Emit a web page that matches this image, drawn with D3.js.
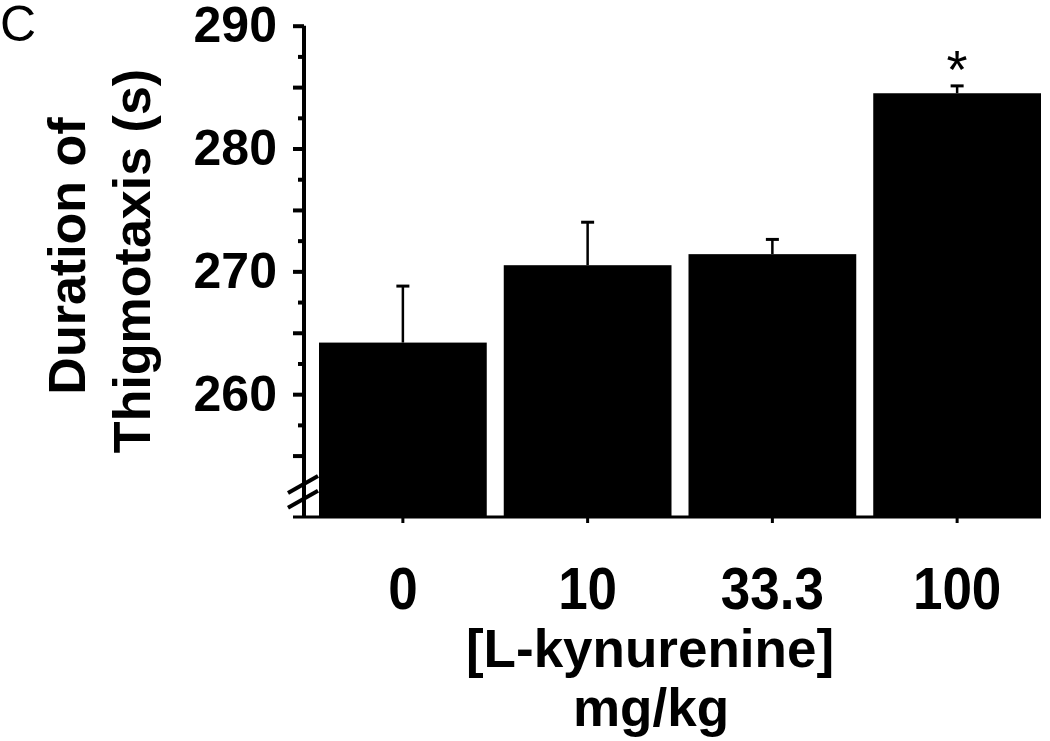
<!DOCTYPE html>
<html>
<head>
<meta charset="utf-8">
<script src="https://cdn.jsdelivr.net/npm/d3@7"></script>
<style>
  body { margin: 0; background: #fff; }
  svg { display: block; }
  text { font-family: "Liberation Sans", Arial, sans-serif; }
</style>
</head>
<body>
<div class="container"></div>
<script>
var w = 1050;
var h = 741;

// data
const doses = ["0", "10", "33.3", "100"];
const means = [264.2, 270.5, 271.4, 284.5];
const sems = [4.6, 3.5, 1.2, 0.6];
const marks = ["", "", "", "*"];
const yLabels = [260, 270, 280, 290];

const data = doses.map((d, i) => ({ dose: d, mean: means[i], sem: sems[i], mark: marks[i] }));

var svg = d3.select(".container")
  .append("svg")
  .attr("width", w)
  .attr("height", h);

var xScale = d3.scaleBand()
  .domain(doses)
  .range([319, 1041])
  .paddingInner(0.092)
  .paddingOuter(0);

var yScale = d3.scaleLinear()
  .domain([250, 290])
  .range([517, 25.7]);

var axisX = 304;

// bars
svg.append("g")
  .selectAll("rect")
  .data(data)
  .enter()
  .append("rect")
  .attr("x", d => xScale(d.dose))
  .attr("y", d => yScale(d.mean))
  .attr("width", xScale.bandwidth())
  .attr("height", d => yScale(250) - yScale(d.mean))
  .attr("fill", "#000");

// error bars (upper half only)
var err = svg.append("g").attr("stroke", "#000");
err.selectAll("line.stem")
  .data(data)
  .enter()
  .append("line")
  .attr("class", "stem")
  .attr("x1", d => xScale(d.dose) + xScale.bandwidth() / 2)
  .attr("x2", d => xScale(d.dose) + xScale.bandwidth() / 2)
  .attr("y1", d => yScale(d.mean))
  .attr("y2", d => yScale(d.mean + d.sem))
  .attr("stroke-width", 2.5);
err.selectAll("line.cap")
  .data(data)
  .enter()
  .append("line")
  .attr("class", "cap")
  .attr("x1", d => xScale(d.dose) + xScale.bandwidth() / 2 - 6.5)
  .attr("x2", d => xScale(d.dose) + xScale.bandwidth() / 2 + 6.5)
  .attr("y1", d => yScale(d.mean + d.sem))
  .attr("y2", d => yScale(d.mean + d.sem))
  .attr("stroke-width", 3);

// significance star
svg.append("g")
  .selectAll("text")
  .data(data.filter(d => d.mark))
  .enter()
  .append("text")
  .attr("x", d => xScale(d.dose) + xScale.bandwidth() / 2)
  .attr("y", d => yScale(d.mean + d.sem) + 2)
  .attr("text-anchor", "middle")
  .attr("font-size", 54)
  .text(d => d.mark);

// y axis, major ticks every 5 with labels at 10
var yMajor = d3.axisLeft(yScale)
  .tickValues(d3.range(255, 291, 5))
  .tickSize(11)
  .tickSizeOuter(0)
  .tickPadding(16)
  .tickFormat(d => yLabels.includes(d) ? d : "");

var gy = svg.append("g")
  .attr("transform", "translate(" + axisX + ",0)")
  .call(yMajor);
gy.select(".domain").attr("stroke-width", 4).attr("d", "M0," + yScale(290) + "V" + yScale(250));
gy.selectAll(".tick line").attr("stroke-width", 4);
gy.selectAll(".tick text")
  .attr("font-size", 50)
  .attr("font-weight", "bold")
  .attr("font-family", "Liberation Sans, Arial, sans-serif")
  .attr("fill", "#000");

// minor ticks
var yMinor = d3.axisLeft(yScale)
  .tickValues(d3.range(257.5, 290, 5))
  .tickSize(6)
  .tickSizeOuter(0)
  .tickFormat("");
var gm = svg.append("g")
  .attr("transform", "translate(" + axisX + ",0)")
  .call(yMinor);
gm.select(".domain").remove();
gm.selectAll(".tick line").attr("stroke-width", 4);

// x axis
var xAxis = d3.axisBottom(xScale)
  .tickSize(6)
  .tickSizeOuter(0)
  .tickPadding(38);
var gx = svg.append("g")
  .attr("transform", "translate(0," + yScale(250) + ")")
  .call(xAxis);
gx.select(".domain").remove();
gx.selectAll(".tick line").attr("stroke-width", 3);
gx.selectAll(".tick text")
  .attr("font-size", 53)
  .attr("font-weight", "bold")
  .attr("font-family", "Liberation Sans, Arial, sans-serif")
  .attr("fill", "#000")
  .attr("transform", "scale(1,1.13)");

svg.append("line")
  .attr("x1", 293)
  .attr("x2", 1041)
  .attr("y1", yScale(250))
  .attr("y2", yScale(250))
  .attr("stroke", "#000")
  .attr("stroke-width", 3);

// axis break
[252.6, 251.4].forEach(v => {
  svg.append("line")
    .attr("x1", axisX - 16)
    .attr("x2", axisX + 14)
    .attr("y1", yScale(v) + 8)
    .attr("y2", yScale(v) - 9)
    .attr("stroke", "#000")
    .attr("stroke-width", 4);
});

// axis titles
svg.append("text")
  .attr("transform", "translate(85,256) rotate(-90)")
  .attr("text-anchor", "middle")
  .attr("font-size", 52)
  .attr("font-weight", "bold")
  .text("Duration of");

svg.append("text")
  .attr("transform", "translate(150,261) rotate(-90)")
  .attr("text-anchor", "middle")
  .attr("font-size", 52)
  .attr("font-weight", "bold")
  .text("Thigmotaxis (s)");

svg.append("text")
  .attr("x", 650)
  .attr("y", 667)
  .attr("text-anchor", "middle")
  .attr("font-size", 53)
  .attr("font-weight", "bold")
  .text("[L-kynurenine]");

svg.append("text")
  .attr("x", 651)
  .attr("y", 726)
  .attr("text-anchor", "middle")
  .attr("font-size", 53)
  .attr("font-weight", "bold")
  .text("mg/kg");

// panel letter
svg.append("text")
  .attr("x", 0)
  .attr("y", 41)
  .attr("font-size", 50)
  .text("C");
</script>
</body>
</html>
